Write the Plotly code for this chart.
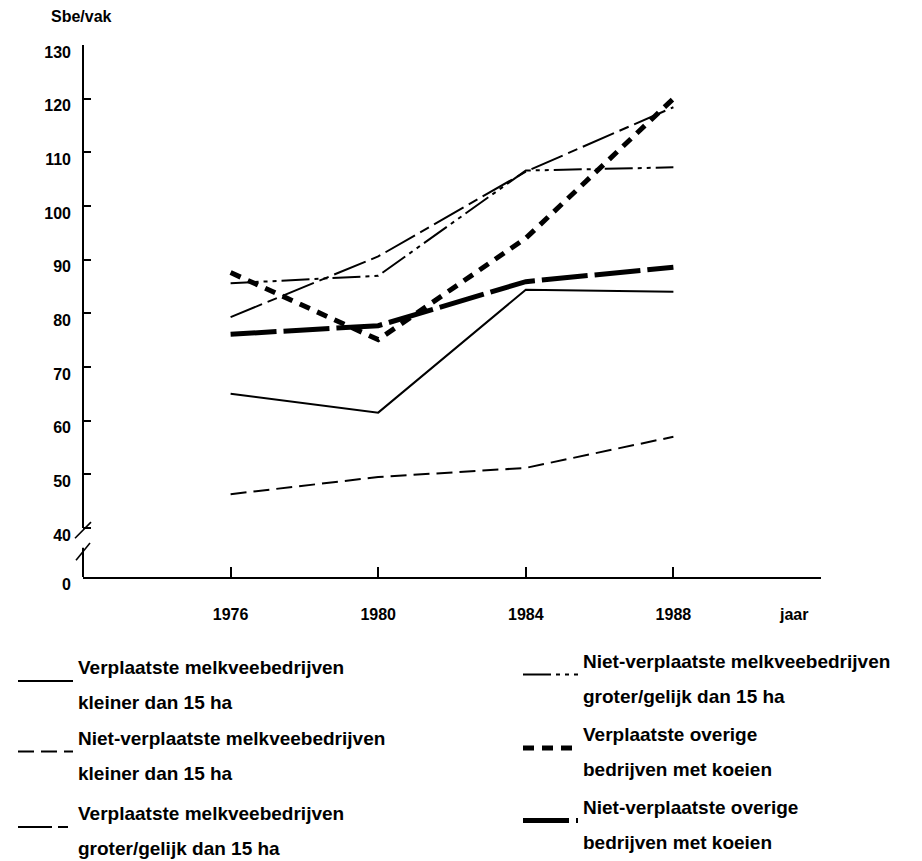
import plotly.graph_objects as go

# ---------------- data ----------------
years = [1976, 1980, 1984, 1988]

name_a = ["Verplaatste melkveebedrijven", "kleiner dan 15 ha"]
name_b = ["Niet-verplaatste melkveebedrijven", "kleiner dan 15 ha"]
name_c = ["Verplaatste melkveebedrijven", "groter/gelijk dan 15 ha"]
name_d = ["Niet-verplaatste melkveebedrijven", "groter/gelijk dan 15 ha"]
name_e = ["Verplaatste overige", "bedrijven met koeien"]
name_f = ["Niet-verplaatste overige", "bedrijven met koeien"]

vals_a = [65.0, 61.5, 84.4, 84.0]
vals_b = [46.3, 49.5, 51.2, 57.0]
vals_c = [79.3, 90.6, 106.4, 118.4]
vals_d = [85.6, 87.0, 106.6, 107.2]
vals_e = [87.6, 75.1, 94.0, 120.0]
vals_f = [76.1, 77.7, 85.9, 88.6]

ytick_labels = ["0", "40", "50", "60", "70", "80", "90", "100", "110", "120", "130"]
ytick_values = [40, 50, 60, 70, 80, 90, 100, 110, 120, 130]
xtick_labels = ["1976", "1980", "1984", "1988"]

y_title = "Sbe/vak"
x_title = "jaar"

# ---------------- layout constants ----------------
PAGE_OFF = 8            # default body margin of the html page
W, H = 922 - PAGE_OFF, 861 - PAGE_OFF
M_L, M_T = 83 - PAGE_OFF, 45 - PAGE_OFF
M_R = W - (821 - PAGE_OFF)
M_B = H - (577 - PAGE_OFF)
X_MIN, X_MAX = 1972, 1992
Y_MAX = 130
Y_BASE = 30.87          # value at the broken-axis baseline, labelled "0"
FONT = "Liberation Sans, Arial, Helvetica, sans-serif"
BLACK = "#000000"

# axis-break geometry (values along the y axis)
BREAK_TOP = 40.0
BREAK_LOW = 36.3
SLASH1 = (38.1, 41.1)
SLASH2 = (34.0, 37.2)

styles = [
    (name_a, vals_a, 2.0, "solid"),
    (name_b, vals_b, 2.0, "16px,7px"),
    (name_c, vals_c, 2.0, "34px,6px,10px,6px"),
    (name_d, vals_d, 2.0, "28px,5px,4px,5px,4px,5px"),
    (name_e, vals_e, 5.0, "11px,8px"),
    (name_f, vals_f, 5.0, "46px,7px"),
]

# legend positions in page pixels (left of symbol box, vertical centre)
legend_pos = [(13, 681.5), (13, 752), (13, 827.5),
              (518, 675), (518, 748.5), (518, 821)]

plot_w = W - M_L - M_R
plot_h = H - M_T - M_B


def px_to_paper(px, py):
    px -= PAGE_OFF
    py -= PAGE_OFF
    return (px - M_L) / plot_w, (H - M_B - py) / plot_h


def yf(v):
    return (v - Y_BASE) / (Y_MAX - Y_BASE)


def legend_name(lines):
    return "<br>".join('<span style="font-size:19px">%s</span>' % t for t in lines)


fig = go.Figure()
layout_legends = {}
for i, (nm, vals, lw, dash) in enumerate(styles):
    lid = "legend" if i == 0 else "legend%d" % (i + 1)
    fig.add_trace(go.Scatter(
        x=years, y=vals, mode="lines",
        line=dict(color=BLACK, width=lw, dash=dash),
        name=legend_name(nm), legend=lid, hoverinfo="skip",
    ))
    lx, ly = px_to_paper(*legend_pos[i])
    layout_legends[lid] = dict(
        x=lx, y=ly, xanchor="left", yanchor="middle",
        bgcolor="rgba(0,0,0,0)", borderwidth=0,
        itemwidth=55, itemclick=False, itemdoubleclick=False,
        font=dict(family=FONT, size=27, color=BLACK, weight="bold"),
    )

axis_line = dict(color=BLACK, width=2)
shapes = [
    dict(type="line", xref="x domain", yref="y domain",
         x0=0, x1=0, y0=yf(BREAK_TOP), y1=1, line=axis_line),
    dict(type="line", xref="x domain", yref="y domain",
         x0=0, x1=0, y0=0, y1=yf(BREAK_LOW), line=axis_line),
    dict(type="line", xref="x domain", yref="y domain",
         xsizemode="pixel", xanchor=0, x0=-8, x1=8,
         y0=yf(SLASH1[0]), y1=yf(SLASH1[1]), line=dict(color=BLACK, width=1.6)),
    dict(type="line", xref="x domain", yref="y domain",
         xsizemode="pixel", xanchor=0, x0=-7, x1=7,
         y0=yf(SLASH2[0]), y1=yf(SLASH2[1]), line=dict(color=BLACK, width=1.6)),
]

tick_font = dict(family=FONT, size=16, color=BLACK, weight="bold")

fig.update_layout(
    width=W, height=H,
    margin=dict(l=M_L, r=M_R, t=M_T, b=M_B, autoexpand=False),
    paper_bgcolor="white", plot_bgcolor="white",
    font=dict(family=FONT, color=BLACK),
    showlegend=True,
    shapes=shapes,
    xaxis=dict(
        range=[X_MIN, X_MAX], showline=True, linecolor=BLACK, linewidth=2,
        ticks="inside", ticklen=10, tickwidth=1.5, tickcolor=BLACK,
        tickvals=years, ticktext=xtick_labels, tickfont=tick_font,
        ticklabelstandoff=22, showgrid=False, zeroline=False,
        automargin=False, fixedrange=True,
    ),
    yaxis=dict(
        range=[Y_BASE, Y_MAX], showline=False,
        ticks="inside", ticklen=8, tickwidth=1.5, tickcolor=BLACK,
        tickvals=[Y_BASE] + ytick_values, ticktext=ytick_labels,
        tickfont=tick_font, ticklabelstandoff=11, ticklabelshift=7,
        showgrid=False, zeroline=False, automargin=False, fixedrange=True,
    ),
    annotations=[
        dict(text=y_title, xref="x domain", yref="y domain", x=0, y=1,
             xanchor="left", yanchor="middle", xshift=-34, yshift=28.5,
             showarrow=False, font=dict(family=FONT, size=16, color=BLACK, weight="bold")),
        dict(text=x_title, xref="x domain", yref="y domain",
             x=(793 - 83) / plot_w, y=0, xanchor="center", yanchor="middle",
             yshift=-37, showarrow=False,
             font=dict(family=FONT, size=16, color=BLACK, weight="bold")),
    ],
    **layout_legends,
)

fig.write_html("out.html")
